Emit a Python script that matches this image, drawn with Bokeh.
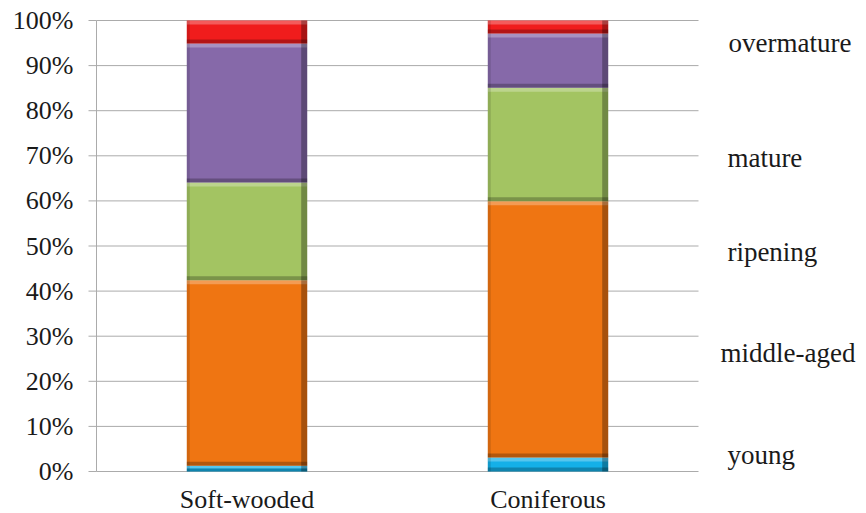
import numpy as np
from bokeh.plotting import figure
from bokeh.models import Range1d, ColumnDataSource
from bokeh.core.properties import value
from bokeh.embed import file_html
from bokeh.resources import INLINE

# ---------------- data ----------------
categories = ["Soft-wooded", "Coniferous"]
classes = ["young", "middle-aged", "ripening", "mature", "overmature"]
young = [1.3, 3.1]
middle_aged = [41.1, 56.8]
ripening = [21.7, 25.2]
mature = [30.8, 12.0]
overmature = [5.1, 2.9]
y_ticks = [0, 10, 20, 30, 40, 50, 60, 70, 80, 90, 100]
y_tick_labels = ["%d%%" % t for t in y_ticks]

# ---------------- layout / style ----------------
W, H = 866, 513
LEFT, TOP, BOTTOM = 96, 20, 471      # plot-area edges in px
CAT_PX = 301                         # px per category slot
PX_X = 1.0 / CAT_PX                  # one px in category units
PX_Y = 100.0 / (BOTTOM - TOP)        # one px in percent units
colors = ["#14b0e8", "#ef7512", "#a3c462", "#8669a9", "#f01c1c"]
FONT = value("Liberation Serif")
TEXT_COLOR = "#1a1a1a"
GRID_COLOR = "#ababab"
BAR_W = 0.4
label_x = [2.096, 2.073, 2.096, 2.096, 2.100]   # class names, category units
label_y = [3.7, 26.2, 48.6, 69.5, 95.0]         # class names, % (text middle)

series = [young, middle_aged, ripening, mature, overmature]
n = len(categories)
xc = np.arange(n) + 0.5

p = figure(width=W, height=H, output_backend="svg", toolbar_location=None,
           x_axis_location=None, y_axis_location=None, min_border=0,
           x_range=Range1d(-LEFT * PX_X, (W - LEFT) * PX_X),
           y_range=Range1d(-(H - BOTTOM) * PX_Y, 100 + TOP * PX_Y))
p.outline_line_color = None
p.grid.visible = False
p.background_fill_color = "white"
p.border_fill_color = "white"

# gridlines, y-axis line and tick marks
p.segment(x0=0, x1=n, y0=y_ticks, y1=y_ticks, line_color=GRID_COLOR, line_width=1)
p.segment(x0=0, x1=0, y0=y_ticks[0], y1=y_ticks[-1], line_color=GRID_COLOR, line_width=1)
p.segment(x0=-8 * PX_X, x1=0, y0=y_ticks, y1=y_ticks, line_color=GRID_COLOR, line_width=1)

# stacked bars with a bevel look
bottom = np.zeros(n)
for vals, col in zip(series, colors):
    vals = np.array(vals, dtype=float)
    top = bottom + vals
    band = np.minimum(4 * PX_Y, vals / 2.0)
    src = ColumnDataSource(dict(x=xc, xr=xc + BAR_W / 2 - 3 * PX_X,
                                xl=xc - BAR_W / 2 + 1.5 * PX_X,
                                bottom=bottom, top=top,
                                hi_b=top - band, lo_t=bottom + band))
    p.vbar(x="x", bottom="bottom", top="top", width=BAR_W, source=src,
           fill_color=col, line_color=None)
    p.vbar(x="x", bottom="hi_b", top="top", width=BAR_W, source=src,
           fill_color="white", fill_alpha=0.28, line_color=None)
    p.vbar(x="x", bottom="bottom", top="lo_t", width=BAR_W, source=src,
           fill_color="black", fill_alpha=0.25, line_color=None)
    p.vbar(x="xr", bottom="bottom", top="top", width=6 * PX_X, source=src,
           fill_color="black", fill_alpha=0.3, line_color=None)
    p.vbar(x="xl", bottom="bottom", top="top", width=3 * PX_X, source=src,
           fill_color="black", fill_alpha=0.12, line_color=None)
    bottom = top

# y tick labels
p.text(x=-(8 + 15) * PX_X, y=y_ticks, text=y_tick_labels, text_font=FONT,
       text_font_size="26px", text_color=TEXT_COLOR,
       text_align="right", text_baseline="middle")
# category labels
p.text(x=xc, y=-28 * PX_Y, text=categories, text_font=FONT,
       text_font_size="26px", text_color=TEXT_COLOR,
       text_align="center", text_baseline="middle")
# class names on the right
p.text(x=label_x, y=label_y, text=classes, text_font=FONT,
       text_font_size="27px", text_color=TEXT_COLOR,
       text_align="left", text_baseline="middle")

open("out.html", "w").write(file_html(p, INLINE))
